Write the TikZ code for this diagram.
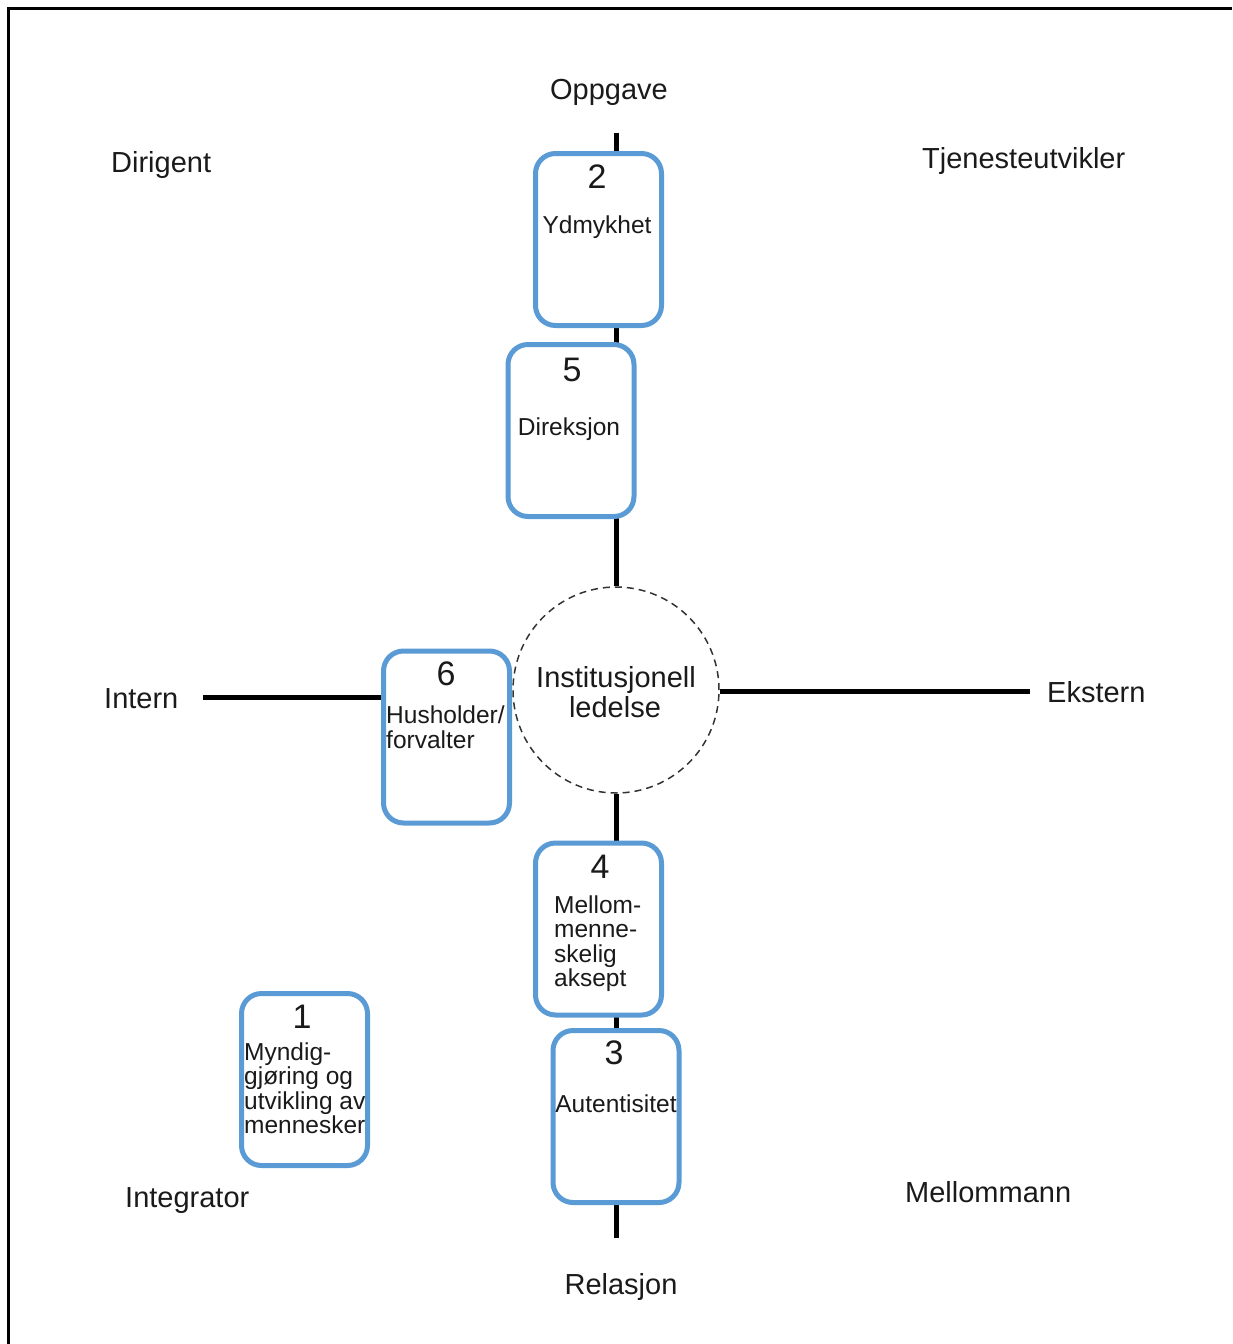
\documentclass[tikz,border=0pt]{standalone}
\usepackage{fontspec}
\setmainfont{Liberation Sans}
\definecolor{boxblue}{HTML}{5B9BD5}
\definecolor{txt}{HTML}{1A1A1A}
\begin{document}
\begin{tikzpicture}[x=1pt,y=-1pt,
  lbl/.style={font=\fontsize{29}{31}\selectfont, text=txt, inner sep=0, anchor=base},
  num/.style={font=\fontsize{34}{36}\selectfont, text=txt, inner sep=0, anchor=base},
  btxt/.style={font=\fontsize{24.5}{24.5}\selectfont, text=txt, inner sep=0, align=left},
  boxnode/.style={draw=boxblue, line width=5, rounded corners=20, fill=white,
    minimum width=126, minimum height=172, inner sep=0},
  axis/.style={line width=5, black},
  frameline/.style={line width=2.5, black}
]
\useasboundingbox (0,0) rectangle (1232,1344);
% frame
\coordinate (f0) at (8.5,8.5);
\coordinate (f1) at (1232,8.5);
\coordinate (f2) at (8.5,1344);
\draw[frameline] (f1) -- (f0) -- (f2);

% centre circle
\node[circle, draw=black!80, dashed, dash pattern=on 7pt off 5pt, line width=1.5,
  minimum size=206, inner sep=0] (circ) at (616,690) {};
\node[lbl] (inst) at (616,687) {Institusjonell};
\node[lbl] (led) at (615,717) {ledelse};

% axes
\coordinate (top) at (616,133);
\coordinate (bot) at (616,1238);
\coordinate (lft) at (203,697.5);
\coordinate (rgt) at (1030,691.5);
\draw[axis] (top) -- (circ);
\draw[axis] (circ) -- (bot);
\draw[axis] (lft) -- (lft -| circ.west);
\draw[axis] (circ.east |- rgt) -- (rgt);

% boxes
\node[boxnode] (b2) at (598.5,239.5) {};
\node[boxnode] (b5) at (571,430.5) {};
\node[boxnode] (b6) at (446.5,737) {};
\node[boxnode] (b4) at (598.5,929) {};
\node[boxnode] (b3) at (616,1116.5) {};
\node[boxnode] (b1) at (304.5,1079.5) {};

% box texts (base anchor of a multi-line node = baseline of its last line)
\node[num] (n2) at (597,188) {2};
\node[btxt, anchor=base] (t2) at (597,233) {Ydmykhet};
\node[num] (n5) at (572,381) {5};
\node[btxt, anchor=base] (t5) at (569,435) {Direksjon};
\node[num] (n6) at (446,685) {6};
\node[btxt, anchor=base west] (t6) at (386,748) {Husholder/\\forvalter};
\node[num] (n4) at (600,878) {4};
\node[btxt, anchor=base west] (t4) at (554,986.5) {Mellom-\\menne-\\skelig\\aksept};
\node[num] (n3) at (614,1064) {3};
\node[btxt, anchor=base] (t3) at (616,1112) {Autentisitet};
\node[num] (n1) at (302,1028) {1};
\node[btxt, anchor=base west] (t1) at (244,1133.5) {Myndig-\\gjøring og\\utvikling av\\mennesker};

% outer labels
\node[lbl] (oppg) at (609,99) {Oppgave};
\node[lbl] (rel) at (621,1294) {Relasjon};
\node[lbl, anchor=base west] (dir) at (111,172) {Dirigent};
\node[lbl, anchor=base west] (tje) at (922,168) {Tjenesteutvikler};
\node[lbl, anchor=base west] (int) at (104,708) {Intern};
\node[lbl, anchor=base west] (eks) at (1047,702) {Ekstern};
\node[lbl, anchor=base west] (integ) at (125,1207) {Integrator};
\node[lbl, anchor=base west] (mell) at (905,1202) {Mellommann};
\end{tikzpicture}
\end{document}
